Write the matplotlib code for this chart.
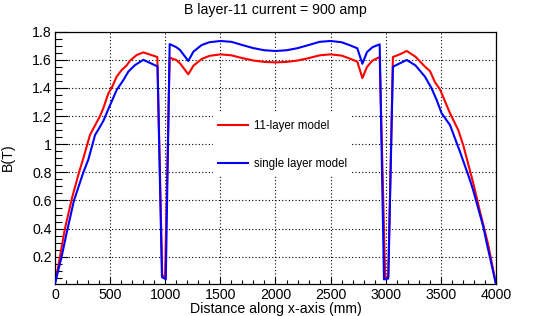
import matplotlib
matplotlib.use("Agg")
import matplotlib.pyplot as plt
from matplotlib.patches import Rectangle
from matplotlib.ticker import MultipleLocator, FuncFormatter

plt.rcParams['font.family'] = ['Liberation Sans', 'DejaVu Sans']

# distance along x-axis (mm) and field (T), 11-layer model
x_11layer = [0, 45, 90, 155, 218, 257, 317, 347, 408, 438, 484, 514, 559, 605, 650, 680,
             741, 801, 928, 973, 998, 1040, 1100, 1134, 1209, 1255, 1330, 1400, 1500, 1600,
             1700, 1800, 1900, 2000, 2100, 2200, 2300, 2400, 2500, 2600, 2670, 2742, 2788,
             2830, 2880, 2945, 2995, 3023, 3065, 3130, 3190, 3270, 3356, 3401, 3447, 3492,
             3583, 3658, 3704, 3794, 3855, 3931, 4000]
b_11layer = [0.01, 0.2, 0.4, 0.62, 0.8, 0.9, 1.065, 1.11, 1.2, 1.255, 1.362, 1.40, 1.48, 1.528,
             1.56, 1.594, 1.634, 1.653, 1.62, 0.068, 0.055, 1.615, 1.599, 1.575, 1.497, 1.558,
             1.606, 1.628, 1.639, 1.632, 1.612, 1.595, 1.585, 1.582, 1.585, 1.595, 1.612, 1.632,
             1.639, 1.630, 1.61, 1.587, 1.47, 1.55, 1.595, 1.62, 0.055, 0.058, 1.62, 1.64,
             1.663, 1.622, 1.551, 1.52, 1.44, 1.39, 1.22, 1.10, 0.99, 0.722, 0.52, 0.28, 0.005]

# single layer model
x_single = [0, 60, 106, 172, 257, 302, 363, 408, 438, 484, 559, 620, 665, 726, 801, 930, 970,
            1005, 1040, 1100, 1134, 1209, 1255, 1330, 1400, 1500, 1600, 1700, 1800, 1900, 2000,
            2100, 2200, 2300, 2400, 2500, 2600, 2670, 2742, 2788, 2830, 2880, 2945, 2984, 3023,
            3065, 3190, 3270, 3356, 3416, 3462, 3507, 3583, 3674, 3764, 3794, 3885, 3915, 4000]
b_single = [0.01, 0.2, 0.37, 0.6, 0.8, 0.89, 1.065, 1.124, 1.165, 1.25, 1.385, 1.456, 1.516,
            1.563, 1.6, 1.553, 0.055, 0.04, 1.712, 1.69, 1.67, 1.592, 1.658, 1.705, 1.725, 1.734,
            1.728, 1.705, 1.683, 1.668, 1.663, 1.668, 1.683, 1.705, 1.728, 1.734, 1.725, 1.705,
            1.682, 1.572, 1.655, 1.69, 1.71, 0.039, 0.045, 1.551, 1.599, 1.56, 1.48, 1.397,
            1.314, 1.22, 1.136, 0.945, 0.745, 0.67, 0.413, 0.30, 0.005]

TITLE = "B layer-11 current = 900 amp"
XLABEL = "Distance along x-axis (mm)"
YLABEL = "B(T)"
LABELS = ["11-layer model", "single layer model"]

fig = plt.figure(figsize=(5.51, 3.16), dpi=100)
ax = fig.add_axes([55 / 551, 31.7 / 316, 441 / 551, 252.6 / 316])

ax.set_axisbelow(True)
ax.grid(True, which='major', color='black', linestyle=(0, (1, 2)), linewidth=0.8)

# white legend box hides the grid behind it
ax.add_patch(Rectangle((0.358, 0.4327), 0.315, 0.2455, transform=ax.transAxes,
                       facecolor='white', edgecolor='none', zorder=1))

l1, = ax.plot(x_11layer, b_11layer, color='#ff0000', linewidth=1.5, zorder=2)
l2, = ax.plot(x_single, b_single, color='#0000ff', linewidth=1.5, zorder=3)

ax.set_xlim(0, 4000)
ax.set_ylim(0.004, 1.8)
ax.xaxis.set_major_locator(MultipleLocator(500))
ax.xaxis.set_minor_locator(MultipleLocator(100))
ax.yaxis.set_major_locator(MultipleLocator(0.2))
ax.yaxis.set_minor_locator(MultipleLocator(0.05))
ax.yaxis.set_major_formatter(FuncFormatter(lambda v, p: f"{v:g}"))

ax.tick_params(axis='both', which='both', direction='in', top=False, right=False,
               labelsize=10.2, pad=2.5, width=0.8)
ax.tick_params(axis='y', which='major', length=9.4)
ax.tick_params(axis='y', which='minor', length=5)
ax.tick_params(axis='x', which='major', length=5)
ax.tick_params(axis='x', which='minor', length=2.6)
for s in ax.spines.values():
    s.set_linewidth(0.9)

ax.legend([l1, l2], LABELS, loc='center left', bbox_to_anchor=(0.3696, 0.5509),
          frameon=False, fontsize=8.3, handlelength=2.6, handletextpad=0.5,
          labelspacing=2.2, borderpad=0, borderaxespad=0)

fig.text(275.5 / 551, 1 - 10 / 316, TITLE, ha='center', va='center', fontsize=10.2)
fig.text(275.5 / 551, 1 - 309 / 316, XLABEL, ha='center', va='center', fontsize=10.2)
fig.text(8 / 551, 1 - 157 / 316, YLABEL, ha='center', va='center', rotation=90, fontsize=10.2)

fig.savefig("out.png", dpi=100)
